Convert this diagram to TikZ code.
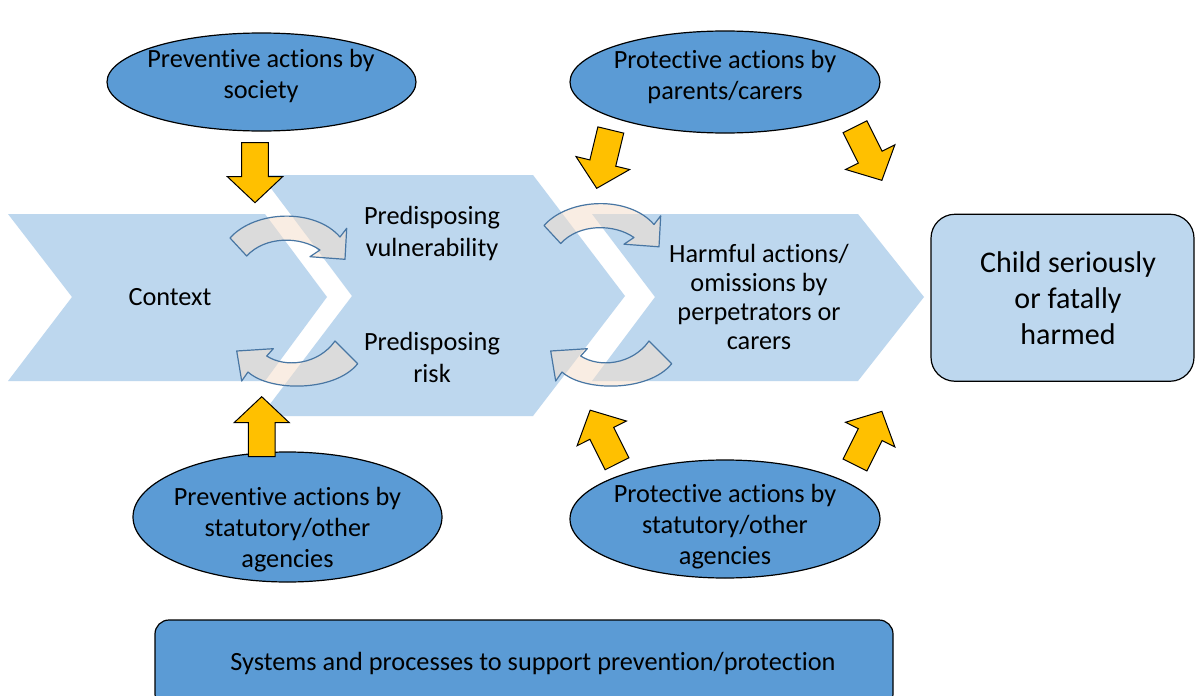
\documentclass[tikz,border=0pt]{standalone}
\usepackage{fontspec}
\setmainfont{Carlito}[Ligatures={NoCommon}]
\usetikzlibrary{shapes.geometric}
\definecolor{chev}{RGB}{189,215,238}
\definecolor{ellblue}{RGB}{91,155,213}
\definecolor{gold}{RGB}{255,192,0}
\definecolor{carrfill}{RGB}{245,223,204}
\definecolor{carrline}{RGB}{72,118,163}
\newcommand\yarrow[3]{\draw[yarr,shift={(#1,#2)},rotate=#3] (-13.3,0) -- (13.3,0) -- (13.3,34) -- (27.6,34) -- (0,60) -- (-27.6,34) -- (-13.3,34) -- cycle;}
\begin{document}
\begin{tikzpicture}[x=1pt,y=-1pt,
  chevron/.style={fill=chev, draw=none},
  ellnode/.style={ellipse, draw=black, line width=1.2pt, fill=ellblue, inner sep=0pt},
  txt/.style={align=center, inner sep=0pt, font=\fontsize{26.3}{31}\selectfont},
  yarr/.style={fill=gold, draw=black, line width=1pt, line join=miter},
  carr/.style={fill=carrfill, fill opacity=0.55, draw=carrline, draw opacity=1, line width=1.2pt, line join=round},
  curvA/.pic={\path[carr] (230,238) .. controls (255,210) and (315,208) .. (340,237) -- (346.7,228.3) -- (345,259.3) -- (310,256.7) -- (320,250) .. controls (300,236) and (265,236) .. (246.7,256) -- cycle;},
  curvB/.pic={\path[carr] (335,341) -- (357.7,363.7) .. controls (335,392) and (270,392) .. (248,372) -- (241.7,381) -- (236.7,351) -- (273.3,348.7) -- (266.7,356) .. controls (285,368) and (318,365) .. (335,341) -- cycle;},
  roundbox/.style={draw=black, line width=1.2pt, rounded corners=14pt}
]
\useasboundingbox (0,0) rectangle (1195,696);
\fill[white] (0,0) rectangle (1195,696);

% chevrons
\fill[chevron] (8,214) -- (265,214) -- (327,297) -- (265,381) -- (8,381) -- (72,297) -- cycle;
\fill[chevron] (261,175) -- (533,175) -- (625,296) -- (533,416) -- (261,416) -- (352,296) -- cycle;
\fill[chevron] (592,214) -- (858,214) -- (924,297) -- (858,381) -- (592,381) -- (655,297) -- cycle;

% curved arrows
\pic at (0,0) {curvA};
\pic at (314,-12.5) {curvA};
\pic at (0,0) {curvB};
\pic at (314,0) {curvB};

% chevron texts
\node[txt] (context) at (170,297) {Context};
\node[txt, font=\fontsize{26.3}{32}\selectfont] (vuln) at (432,233) {Predisposing\\vulnerability};
\node[txt, font=\fontsize{26.3}{32}\selectfont] (risk) at (432,357) {Predisposing\\risk};
\node[txt, font=\fontsize{26.3}{29}\selectfont] (harm) at (759,297) {Harmful actions/\\omissions by\\perpetrators or\\carers};

% outcome box
\node[roundbox, fill=chev, rounded corners=24pt, minimum width=263pt, minimum height=167pt] (child) at (1062.5,297.75) {};
\node[txt, font=\fontsize{30}{36}\selectfont] (childt) at (1068,298) {Child seriously\\or fatally\\harmed};

% ellipses
\node[ellnode, minimum width=309pt, minimum height=98pt] (e1) at (261.5,82) {};
\node[txt] (e1t) at (261,76) {Preventive actions by\\society};
\node[ellnode, minimum width=310pt, minimum height=102pt] (e2) at (725,82) {};
\node[txt] (e2t) at (725,77) {Protective actions by\\parents/carers};
\node[ellnode, minimum width=309pt, minimum height=130pt] (e3) at (287.5,517) {};
\node[txt] (e3t) at (287.5,530) {Preventive actions by\\statutory/other\\agencies};
\node[ellnode, minimum width=310pt, minimum height=118pt] (e4) at (725,519) {};
\node[txt] (e4t) at (725,527) {Protective actions by\\statutory/other\\agencies};

% yellow arrows
\yarrow{255}{142.7}{0}
\yarrow{261.7}{456.7}{180}
\yarrow{610.8}{130}{-13.6}
\yarrow{855}{126.7}{26.6}
\yarrow{617}{463.8}{206.6}
\yarrow{855}{465}{153.4}

% bottom box
\node[roundbox, fill=ellblue, minimum width=738pt, minimum height=88pt] (sys) at (524,664) {};
\node[txt] (syst) at (533,663) {Systems and processes to support prevention/protection};
\end{tikzpicture}
\end{document}
